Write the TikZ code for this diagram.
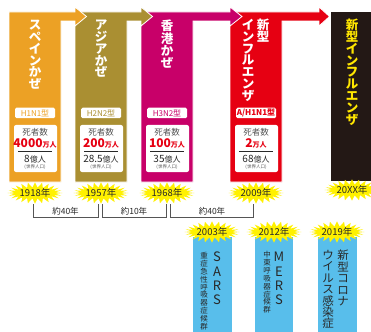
\documentclass[tikz,border=0pt]{standalone}
\usepackage{fontspec}
\setmainfont{Noto Sans CJK JP}
\usetikzlibrary{calc}
\definecolor{corange}{RGB}{236,161,37}
\definecolor{colive}{RGB}{170,143,50}
\definecolor{cmag}{RGB}{200,0,105}
\definecolor{cred}{RGB}{230,0,18}
\definecolor{cblack}{RGB}{35,24,21}
\definecolor{cyel}{RGB}{255,230,0}
\definecolor{cstar}{RGB}{255,241,0}
\definecolor{cblue}{RGB}{88,190,235}
\definecolor{cgray}{RGB}{85,85,85}
\definecolor{ctext}{RGB}{40,40,40}
\tikzset{
  colshape/.style={draw=white, line width=0.8pt, line join=miter},
  typebox/.style={fill=white, rounded corners=1.5pt, minimum width=40pt, minimum height=10.5pt, inner sep=0pt, font=\fontsize{8}{8}\selectfont},
  deathbox/.style={fill=white, rounded corners=2pt, minimum width=43pt, minimum height=47pt, inner sep=0pt},
  vtitle/.style={align=center, inner sep=0pt, anchor=north, font=\fontsize{12.5}{11.8}\selectfont\bfseries},
  vsmall/.style={align=center, inner sep=0pt, anchor=north, text=ctext, font=\fontsize{7.5}{7.9}\selectfont},
  vlatin/.style={align=center, inner sep=0pt, anchor=north, text=ctext, font=\fontsize{13}{14.3}\selectfont},
  vmid/.style={align=center, inner sep=0pt, anchor=north, text=ctext, font=\fontsize{11.5}{11.4}\selectfont},
  yeartext/.style={inner sep=0pt, text=ctext, font=\fontsize{9.5}{9.5}\selectfont},
  brackettext/.style={inner sep=0pt, text=ctext, font=\fontsize{8.5}{8.5}\selectfont},
  bracketline/.style={draw=cgray, line width=0.9pt},
  plain/.style={inner sep=0pt}
}
\newcommand\burst[3]{%
  \fill[cstar, shift={(#1)}] plot[domain=0:360, samples=49]
    ({24*(1+0.14*cos(24*\x))*cos(\x)}, {8*(1+0.32*cos(24*\x))*sin(\x)}) -- cycle;
  \node[yeartext] (#3) at (#1) {#2};
}
\newcommand\infobox[6]{%
  \node[typebox, text=#2] (#6t) at (#1,113) {#3};
  \node[deathbox] (#6d) at (#1+0.5,148.5) {};
  \node[plain, text=cgray, font=\fontsize{8.5}{8.5}\selectfont] (#6a) at (#1,132) {死者数};
  \node[plain, text=cred] (#6b) at (#1,143) {\fontsize{12}{12}\selectfont\bfseries #4\fontsize{7}{7}\selectfont 万人};
  \coordinate (#6l) at (#1-17,151.5);
  \coordinate (#6r) at (#1+17,151.5);
  \draw[ctext, line width=0.7pt] (#6l) -- (#6r);
  \node[plain, text=ctext] (#6c) at (#1,159.5) {\fontsize{10}{10}\selectfont #5\fontsize{8}{8}\selectfont 億人};
  \node[plain, text=cgray] (#6e) at (#1,167) {\fontsize{4.5}{4.5}\selectfont (世界人口)};
}
\begin{document}
\begin{tikzpicture}[x=1pt, y=-1pt]
\useasboundingbox (0,0) rectangle (371,331);
\fill[white] (0,0) rectangle (371,331);
% black future box
\fill[cblack] (331,12) rectangle (372,181);
% columns (right to left so arrowheads overlay next column)
\fill[cred, colshape] (230,182) -- (230,12) -- (319,12) -- (319,7) -- (329.5,16.5) -- (319,26) -- (319,21) -- (282,21) -- (282,182) -- cycle;
\fill[cmag, colshape] (141,182) -- (141,12) -- (230,12) -- (230,7) -- (242,16.5) -- (230,26) -- (230,21) -- (193,21) -- (193,182) -- cycle;
\fill[colive, colshape] (75,182) -- (75,12) -- (141,12) -- (141,7) -- (152.5,16.5) -- (141,26) -- (141,21) -- (127,21) -- (127,182) -- cycle;
\fill[corange, colshape] (9,182) -- (9,12) -- (75,12) -- (75,7) -- (86.5,16.5) -- (75,26) -- (75,21) -- (61,21) -- (61,182) -- cycle;
% titles
\node[vtitle, text=white] (t1) at (35,20) {ス\\ペ\\イ\\ン\\か\\ぜ};
\node[vtitle, text=white] (t2) at (101,20) {ア\\ジ\\ア\\か\\ぜ};
\node[vtitle, text=white] (t3) at (167,20) {香\\港\\か\\ぜ};
\node[vtitle, text=white] (t4a) at (263,19) {新\\型};
\node[vtitle, text=white] (t4b) at (248,19) {イ\\ン\\フ\\ル\\エ\\ン\\ザ};
\node[vtitle, text=cyel] (t5) at (352,19) {新\\型\\イ\\ン\\フ\\ル\\エ\\ン\\ザ};
% info boxes
\infobox{35}{corange}{H1N1型}{4000}{8}{ia}
\infobox{101}{colive}{H2N2型}{200}{28.5}{ib}
\infobox{167}{cmag}{H3N2型}{100}{35}{ic}
\infobox{256}{cred}{\bfseries A/H1N1型}{2}{68}{id}
% blue bars
\fill[cblue] (193,237) rectangle (232,332);
\fill[cblue] (255,237) rectangle (293,332);
\fill[cblue] (318,237) rectangle (357,332);
\node[vlatin] (sars) at (217,252) {S\\A\\R\\S};
\node[vsmall] (sarsj) at (204,252) {重\\症\\急\\性\\呼\\吸\\器\\症\\候\\群};
\node[vlatin] (mers) at (279,252) {M\\E\\R\\S};
\node[vsmall] (mersj) at (267,251) {中\\東\\呼\\吸\\器\\症\\候\\群};
\node[vmid] (cov1) at (343,250) {新\\型\\コ\\ロ\\ナ};
\node[vmid] (cov2) at (328,250) {ウ\\イ\\ル\\ス\\感\\染\\症};
% year bursts
\burst{35,193}{1918年}{y1}
\burst{101,193}{1957年}{y2}
\burst{167,193}{1968年}{y3}
\burst{256,193}{2009年}{y4}
\burst{352,190}{20XX年}{y5}
\burst{212,232}{2003年}{y6}
\burst{274,232}{2012年}{y7}
\burst{337,232}{2019年}{y8}
% brackets
\draw[bracketline] (33,204) -- (33,217) -- (98,217) -- (98,204);
\draw[bracketline] (102,204) -- (102,217) -- (166,217) -- (166,204);
\draw[bracketline] (170,204) -- (170,217) -- (253,217) -- (253,204);
\node[brackettext] (g1) at (65.5,211) {約40年};
\node[brackettext] (g2) at (134,211) {約10年};
\node[brackettext] (g3) at (212,211) {約40年};
\end{tikzpicture}
\end{document}
